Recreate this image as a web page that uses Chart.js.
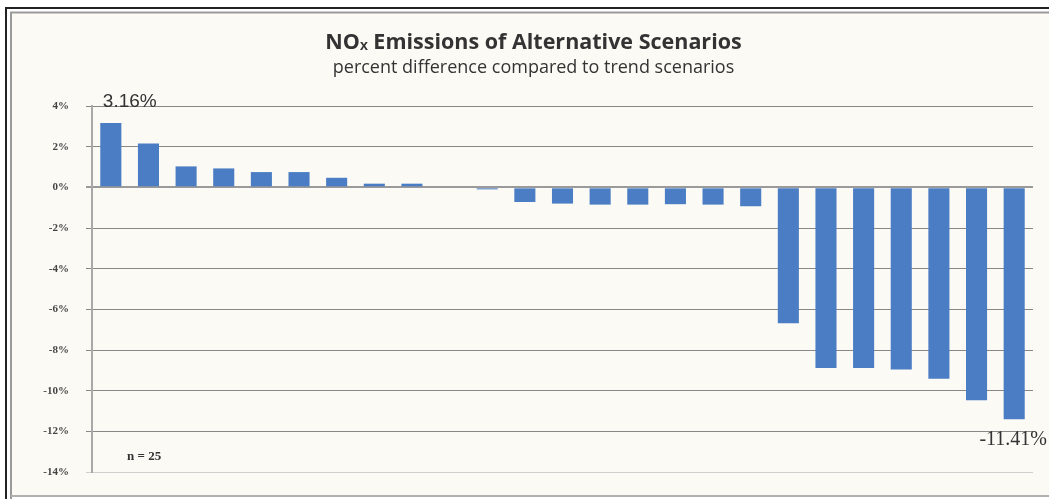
<!DOCTYPE html>
<html>
<head>
<meta charset="utf-8">
<script src="https://cdn.jsdelivr.net/npm/chart.js@4"></script>
<style>
html,body{margin:0;padding:0;background:#fff;}
#wrap{width:1049px;height:499px;position:relative;}
</style>
</head>
<body>
<div id="wrap"><canvas id="c" width="1049" height="499"></canvas></div>
<script>
const categories = ["S1","S2","S3","S4","S5","S6","S7","S8","S9","S10","S11","S12","S13","S14","S15","S16","S17","S18","S19","S20","S21","S22","S23","S24","S25"];
const values = [3.16, 2.16, 1.03, 0.93, 0.75, 0.75, 0.47, 0.18, 0.18, 0, -0.1, -0.72, -0.8, -0.85, -0.85, -0.83, -0.85, -0.93, -6.68, -8.88, -8.88, -8.96, -9.42, -10.47, -11.41];
const tickValues = [4, 2, 0, -2, -4, -6, -8, -10, -12, -14];
const tickLabels = ["4%", "2%", "0%", "-2%", "-4%", "-6%", "-8%", "-10%", "-12%", "-14%"];
const titleText = "NOₓ Emissions of Alternative Scenarios";
const subtitleText = "percent difference compared to trend scenarios";
const pointLabels = [{index: 0, text: "3.16%"}, {index: 24, text: "-11.41%"}];
const noteText = "n = 25";

const frame = {
  id: 'frame',
  beforeDraw(chart) {
    const ctx = chart.ctx;
    ctx.save();
    ctx.fillStyle = '#ffffff';
    ctx.fillRect(0, 0, chart.width, chart.height);
    ctx.fillStyle = '#fcfaf5';
    ctx.fillRect(12, 13, chart.width - 12, 483);
    ctx.strokeStyle = '#222';
    ctx.lineWidth = 2;
    ctx.beginPath();
    ctx.moveTo(6, chart.height); ctx.lineTo(6, 8); ctx.lineTo(chart.width, 8);
    ctx.stroke();
    ctx.strokeStyle = '#9a9a9a';
    ctx.beginPath();
    ctx.moveTo(11, chart.height); ctx.lineTo(11, 12.5); ctx.lineTo(chart.width, 12.5);
    ctx.stroke();
    ctx.strokeStyle = '#b0b0b0';
    ctx.beginPath();
    ctx.moveTo(11, 496); ctx.lineTo(chart.width, 496);
    ctx.stroke();
    ctx.restore();
  },
  afterDatasetsDraw(chart) {
    const ctx = chart.ctx;
    const meta = chart.getDatasetMeta(0);
    ctx.save();
    pointLabels.forEach(p => {
      const el = meta.data[p.index];
      const v = values[p.index];
      ctx.fillStyle = '#333';
      ctx.textBaseline = 'middle';
      if (v >= 0) {
        ctx.font = '19px "Liberation Sans", Arial, sans-serif';
        ctx.textAlign = 'left';
        ctx.fillText(p.text, el.x - 8, el.y - 21);
      } else {
        ctx.font = '20px "Liberation Serif", "Times New Roman", serif';
        ctx.textAlign = 'center';
        ctx.fillText(p.text, el.x - 1, el.y + 20);
      }
    });
    const ca = chart.chartArea;
    ctx.font = 'bold 13px "Liberation Serif", serif';
    ctx.fillStyle = '#333';
    ctx.textAlign = 'left';
    ctx.textBaseline = 'middle';
    ctx.fillText(noteText, ca.left + 35, ca.bottom - 15);
    ctx.restore();
  }
};

new Chart(document.getElementById('c'), {
  type: 'bar',
  data: {
    labels: categories,
    datasets: [{
      data: values,
      backgroundColor: '#4a7dc3',
      borderWidth: 0,
      categoryPercentage: 1,
      barPercentage: 0.56
    }]
  },
  options: {
    responsive: false,
    animation: false,
    events: [],
    layout: { padding: { top: 0, right: 16, bottom: 27, left: 34 } },
    plugins: {
      legend: { display: false },
      tooltip: { enabled: false },
      title: {
        display: true,
        text: titleText,
        color: '#333',
        font: { family: '"Open Sans", sans-serif', size: 21.5, weight: 'bold', lineHeight: 1.2 },
        padding: { top: 30.1, bottom: 1 }
      },
      subtitle: {
        display: true,
        text: subtitleText,
        color: '#333',
        font: { family: '"Open Sans", sans-serif', size: 18, lineHeight: 1.2 },
        padding: { top: 0.3, bottom: 27.2 }
      }
    },
    scales: {
      x: {
        display: false,
        offset: true,
        grid: { display: false }
      },
      y: {
        min: -14,
        max: 4,
        afterFit(scale) { scale.width = 58; },
        afterBuildTicks(scale) { scale.ticks = tickValues.map(v => ({ value: v })); },
        ticks: {
          callback: (v) => tickLabels[tickValues.indexOf(v)],
          color: '#444',
          font: { family: '"Liberation Serif", serif', size: 11, weight: 'bold' },
          padding: 17
        },
        border: { display: true, color: '#a8a8a8', width: 2 },
        grid: {
          drawTicks: true,
          tickLength: 6,
          color: (c) => c.tick && c.tick.value === -14 ? '#d0d0d0' : (c.tick && c.tick.value === 0 ? '#9a9a9a' : '#888888'),
          lineWidth: (c) => c.tick && c.tick.value === 0 ? 2 : 1
        }
      }
    }
  },
  plugins: [frame]
});
</script>
</body>
</html>
